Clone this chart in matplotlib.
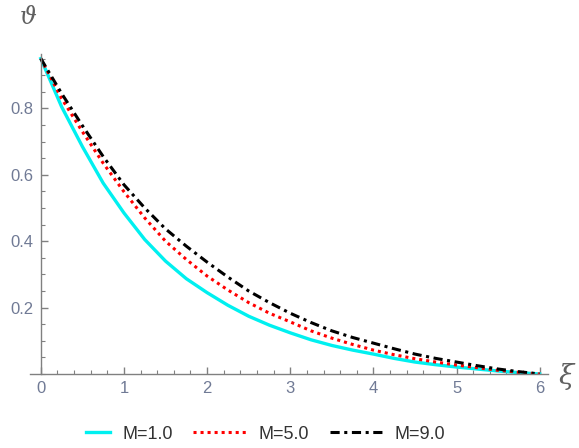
import matplotlib
matplotlib.use("Agg")
import matplotlib.pyplot as plt
from matplotlib.ticker import MultipleLocator, FixedLocator
from matplotlib.legend_handler import HandlerLine2D

xi = [0, .25, .5, .75, 1, 1.25, 1.5, 1.75, 2, 2.25, 2.5, 2.75, 3, 3.25, 3.5, 3.75,
      4, 4.25, 4.5, 4.75, 5, 5.25, 5.5, 5.75, 6]
theta_M1 = [0.95, 0.805, 0.685, 0.575, 0.485, 0.405, 0.34, 0.287, 0.245, 0.207, 0.174, 0.147,
            0.124, 0.103, 0.086, 0.072, 0.060, 0.047, 0.036, 0.028, 0.021, 0.015, 0.009, 0.004, 0.0]
theta_M5 = [0.95, 0.83, 0.73, 0.635, 0.549, 0.47, 0.40, 0.345, 0.295, 0.253, 0.215, 0.183,
            0.157, 0.13, 0.108, 0.089, 0.072, 0.058, 0.046, 0.036, 0.027, 0.019, 0.011, 0.005, 0.0]
theta_M9 = [0.95, 0.845, 0.748, 0.655, 0.57, 0.50, 0.437, 0.385, 0.337, 0.292, 0.25, 0.215,
            0.183, 0.155, 0.13, 0.11, 0.093, 0.076, 0.06, 0.047, 0.036, 0.025, 0.015, 0.007, 0.0]
labels = ["M=1.0", "M=5.0", "M=9.0"]
xticks = [0, 1, 2, 3, 4, 5, 6]
yticks = [0.2, 0.4, 0.6, 0.8]

plt.rcParams["font.family"] = ["Liberation Sans", "DejaVu Sans"]

W, H = 579, 448
fig = plt.figure(figsize=(W / 100, H / 100), dpi=100)
left_px, right_px, bottom_px, top_px = 30, 548, 374, 53.6
ax = fig.add_axes([left_px / W, (H - bottom_px) / H, (right_px - left_px) / W, (bottom_px - top_px) / H])

l1, = ax.plot(xi, theta_M1, color="#00f0f0", lw=2.4, ls="-", label=labels[0])
l2, = ax.plot(xi, theta_M5, color="#ff0000", lw=2.2, ls=(0, (1, 1.3)), label=labels[1])
l3, = ax.plot(xi, theta_M9, color="#000000", lw=2.2, ls=(0, (3, 1.5, 1, 1.5)), label=labels[2])

ax.set_xlim(-0.13, 6.1)
ax.set_ylim(0, 0.965)

axis_col = "#808080"
for s in ["top", "right"]:
    ax.spines[s].set_visible(False)
ax.spines["left"].set_position(("data", 0))
ax.spines["left"].set_color(axis_col)
ax.spines["bottom"].set_color(axis_col)
ax.spines["left"].set_linewidth(1.0)
ax.spines["bottom"].set_linewidth(1.0)

ax.xaxis.set_major_locator(FixedLocator(xticks))
ax.xaxis.set_minor_locator(MultipleLocator(0.2))
ax.yaxis.set_major_locator(FixedLocator(yticks))
ax.yaxis.set_minor_locator(MultipleLocator(0.05))
ax.set_xticklabels([str(v) for v in xticks])
ax.set_yticklabels([f"{v:.1f}" for v in yticks])
ax.tick_params(axis="both", which="both", direction="in", color=axis_col)
ax.tick_params(axis="both", which="major", length=5, width=1.0, labelsize=12, labelcolor="#707a95")
ax.tick_params(axis="both", which="minor", length=3, width=0.8)
ax.tick_params(axis="x", pad=5)
ax.tick_params(axis="y", pad=5)

fig.text(28 / W, 1 - 18 / H, "ϑ", fontsize=17, color="#606060", ha="center", va="center", family="DejaVu Serif", style="italic")
fig.text(566 / W, 1 - 377 / H, "ξ", fontsize=20, color="#606060", ha="center", va="center", family="DejaVu Serif", style="italic")


class ShortHandler(HandlerLine2D):
    def create_artists(self, legend, orig_handle, xdescent, ydescent, width, height, fontsize, trans):
        arts = super().create_artists(legend, orig_handle, xdescent, ydescent, width, height, fontsize, trans)
        line = arts[0]
        xd = list(line.get_xdata())
        yd = list(line.get_ydata())
        x0, x1 = min(xd), max(xd)
        line.set_data([x0 + (x1 - x0) * 0.54, x1 - (x1 - x0) * 0.02], [yd[0], yd[0]])
        return arts


leg = fig.legend(handles=[l1, l2, l3], labels=labels, loc="center left",
                 bbox_to_anchor=(57 / W, 1 - 434 / H), ncol=3, frameon=False,
                 fontsize=13, handlelength=3.0, columnspacing=1.15, handletextpad=0.6,
                 borderpad=0, borderaxespad=0, handler_map={l1: ShortHandler()})
for t in leg.get_texts():
    t.set_color("#333333")

fig.savefig("out.png", dpi=100)
